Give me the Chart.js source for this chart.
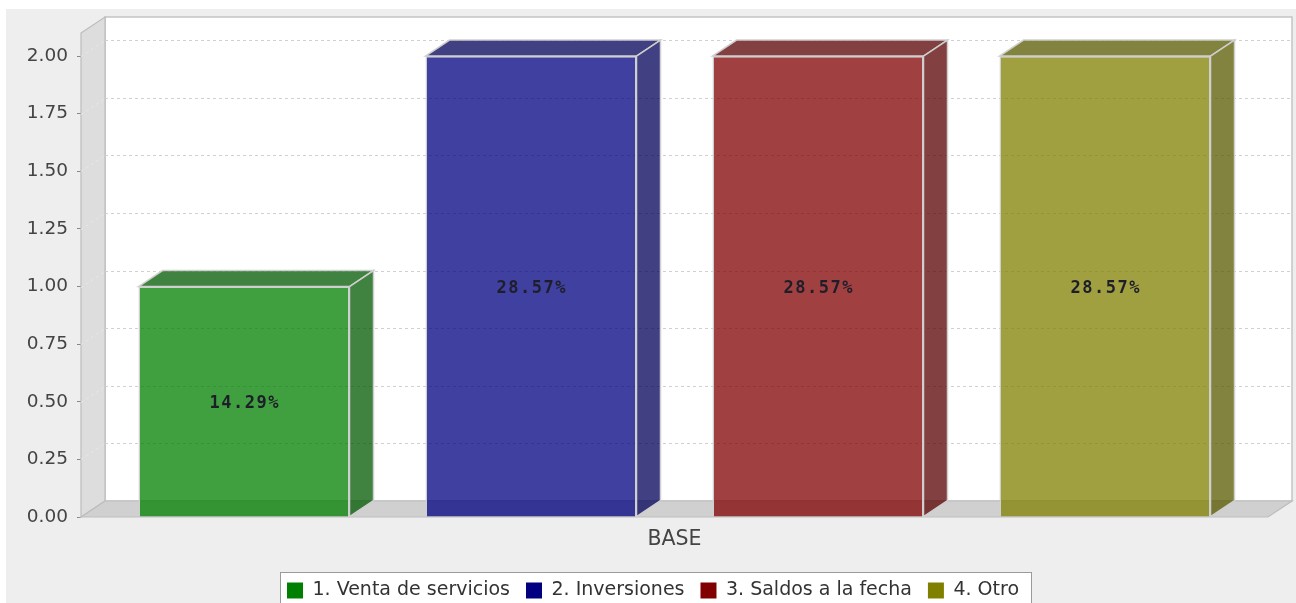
<!DOCTYPE html>
<html><head><meta charset="utf-8">
<script src="https://cdn.jsdelivr.net/npm/chart.js@4.4.1/dist/chart.umd.min.js"></script>
<style>html,body{margin:0;padding:0;overflow:hidden;background:#fff;width:1296px;height:603px}canvas{display:block}</style>
</head><body><canvas id="c" width="1296" height="640"></canvas>
<script>
// ---- data ----
const categories = ['BASE'];
const seriesNames = ['1. Venta de servicios', '2. Inversiones', '3. Saldos a la fecha', '4. Otro'];
const ventaDeServicios = [1];
const inversiones = [2];
const saldosALaFecha = [2];
const otro = [2];
const yTickValues = [0, 0.25, 0.5, 0.75, 1.0, 1.25, 1.5, 1.75, 2.0];
const yMax = 2.1;

// ---- styles ----
const seriesRGB = [[0,128,0],[0,0,128],[128,0,0],[128,128,0]];
const alpha = 0.75;
const DX = 24, DY = 16;
const LEGEND_SHIFT = 14;
const rgba = (c, a) => `rgba(${c[0]},${c[1]},${c[2]},${a})`;
const darker = c => c.map(v => Math.floor(v * 0.7));

const seriesData = [ventaDeServicios, inversiones, saldosALaFecha, otro];

const threeD = {
  id: 'threeD',
  afterLayout(chart) {
    const lg = chart.legend;
    if (lg) { lg.left += LEGEND_SHIFT; lg.right += LEGEND_SHIFT; }
  },
  beforeDraw(chart) {
    const ctx = chart.ctx;
    ctx.save();
    ctx.fillStyle = '#fff';
    ctx.fillRect(0, 0, chart.width, chart.height);
    ctx.fillStyle = '#EEEEEE';
    ctx.fillRect(6, 9, chart.width - 6, chart.height - 9);
    const hb = chart.legend && chart.legend.legendHitBoxes;
    if (hb && hb.length) {
      const l = Math.round(hb[0].left - 7), t = Math.round(hb[0].top - 9);
      const last = hb[hb.length - 1];
      const r = Math.round(last.left + last.width + 12);
      ctx.fillStyle = '#fff';
      ctx.fillRect(l, t, r - l, chart.height);
      ctx.strokeStyle = '#9a9a9a';
      ctx.lineWidth = 1;
      ctx.strokeRect(l + 0.5, t + 0.5, r - l, chart.height);
    }
    ctx.restore();
  },
  beforeDatasetsDraw(chart) {
    const ctx = chart.ctx, a = chart.chartArea, y = chart.scales.y;
    const L = a.left, R = a.right, T = a.top, B = a.bottom;
    ctx.save();
    // back wall
    ctx.fillStyle = '#fff';
    ctx.fillRect(L + DX, T - DY, R - L, B - T);
    ctx.strokeStyle = '#c4c4c4';
    ctx.lineWidth = 1.5;
    ctx.strokeRect(L + DX, T - DY, R - L, B - T);
    // left wall
    ctx.beginPath();
    ctx.moveTo(L, T); ctx.lineTo(L + DX, T - DY); ctx.lineTo(L + DX, B - DY); ctx.lineTo(L, B); ctx.closePath();
    ctx.fillStyle = '#DDDDDD'; ctx.fill();
    ctx.strokeStyle = '#bdbdbd'; ctx.lineWidth = 1.2; ctx.stroke();
    // floor
    ctx.beginPath();
    ctx.moveTo(L, B); ctx.lineTo(L + DX, B - DY); ctx.lineTo(R + DX, B - DY); ctx.lineTo(R, B); ctx.closePath();
    ctx.fillStyle = '#D0D0D0'; ctx.fill();
    ctx.strokeStyle = '#bdbdbd'; ctx.stroke();
    // grid lines
    ctx.setLineDash([3, 3]);
    ctx.lineWidth = 1;
    y.ticks.forEach(t => {
      if (t.value === 0) return;
      const py = Math.round(y.getPixelForValue(t.value)) + 0.5;
      ctx.strokeStyle = '#d0d0d0';
      ctx.beginPath(); ctx.moveTo(L + DX, py - DY); ctx.lineTo(R + DX, py - DY); ctx.stroke();
      ctx.strokeStyle = '#e8e8e8';
      ctx.beginPath(); ctx.moveTo(L, py); ctx.lineTo(L + DX, py - DY); ctx.stroke();
    });
    ctx.restore();
  },
  afterDatasetsDraw(chart) {
    const ctx = chart.ctx;
    ctx.save();
    const totals = categories.map((_, j) => seriesData.reduce((s, d) => s + d[j], 0));
    chart.data.datasets.forEach((ds, i) => {
      const meta = chart.getDatasetMeta(i);
      const dk = rgba(darker(seriesRGB[i]), alpha);
      meta.data.forEach((bar, j) => {
        const p = bar.getProps(['x', 'y', 'base', 'width'], true);
        const l = p.x - p.width / 2, r = p.x + p.width / 2;
        ctx.lineWidth = 1.5;
        ctx.strokeStyle = '#cfcfcf';
        // top face
        ctx.beginPath();
        ctx.moveTo(l, p.y); ctx.lineTo(l + DX, p.y - DY); ctx.lineTo(r + DX, p.y - DY); ctx.lineTo(r, p.y); ctx.closePath();
        ctx.fillStyle = dk; ctx.fill(); ctx.stroke();
        // side face
        ctx.beginPath();
        ctx.moveTo(r, p.y); ctx.lineTo(r + DX, p.y - DY); ctx.lineTo(r + DX, p.base - DY); ctx.lineTo(r, p.base); ctx.closePath();
        ctx.fillStyle = dk; ctx.fill(); ctx.stroke();
        // label
        const v = ds.data[j];
        const txt = (v / totals[j] * 100).toFixed(2) + '%';
        ctx.font = 'bold 17px "DejaVu Sans Mono"';
        ctx.letterSpacing = '1.5px';
        ctx.textAlign = 'center';
        ctx.textBaseline = 'middle';
        ctx.fillStyle = '#1e1e2a';
        ctx.fillText(txt, p.x + 0.75, (p.y + p.base) / 2 + 2);
      });
    });
    ctx.restore();
  }
};

Chart.defaults.font.family = "'DejaVu Sans'";
Chart.defaults.color = '#444';

new Chart(document.getElementById('c'), {
  type: 'bar',
  data: {
    labels: categories,
    datasets: seriesNames.map((name, i) => ({
      label: name,
      data: seriesData[i],
      backgroundColor: rgba(seriesRGB[i], alpha),
      borderColor: '#cfcfcf',
      borderWidth: 1.5,
      categoryPercentage: 1148 / 1187,
      barPercentage: 211 / 287
    }))
  },
  options: {
    responsive: false,
    animation: false,
    devicePixelRatio: 1,
    layout: { padding: { left: 10, right: 28, top: 33, bottom: 30 } },
    scales: {
      y: {
        min: 0, max: yMax,
        afterFit(s) { s.width = 71; },
        afterBuildTicks(s) { s.ticks = yTickValues.map(v => ({ value: v })); },
        ticks: { padding: 9, font: { size: 18.5 }, color: '#444', callback: v => Number(v).toFixed(2) },
        grid: { drawOnChartArea: false, drawTicks: true, tickLength: 4, tickColor: '#888', lineWidth: 1 },
        border: { display: false }
      },
      x: {
        afterFit(s) { s.height = 48; },
        ticks: { padding: 2, font: { size: 20.5 }, color: '#444' },
        grid: { display: false },
        border: { display: false }
      }
    },
    plugins: {
      tooltip: { enabled: false },
      legend: {
        position: 'bottom',
        labels: {
          boxWidth: 16, boxHeight: 16, padding: 16,
          font: { size: 19 }, color: '#333',
          generateLabels(chart) {
            return chart.data.datasets.map((ds, i) => ({
              text: ds.label, fillStyle: rgba(seriesRGB[i], 1), strokeStyle: rgba(seriesRGB[i], 1),
              lineWidth: 0, hidden: false, datasetIndex: i, fontColor: '#333'
            }));
          }
        }
      }
    }
  },
  plugins: [threeD]
});
</script>
</body></html>
